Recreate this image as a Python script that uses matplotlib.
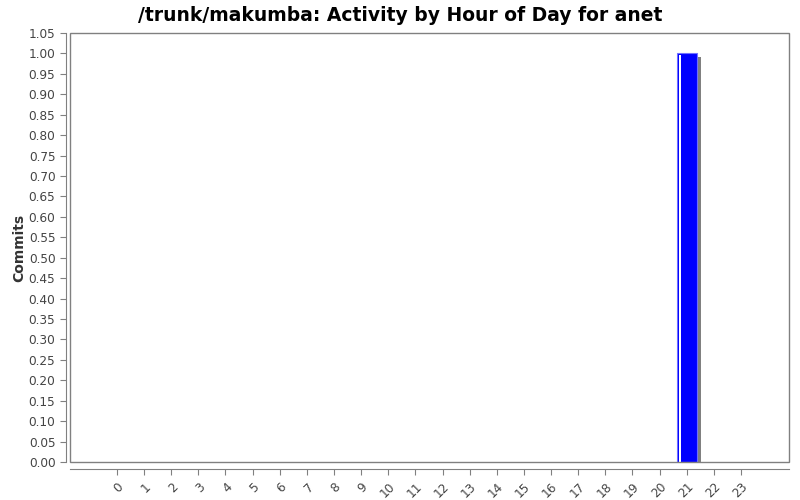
import matplotlib
matplotlib.use("Agg")
import matplotlib.pyplot as plt
import matplotlib.transforms as mtransforms
from matplotlib.patches import Rectangle
import numpy as np

hours = list(range(24))
commits = [0]*21 + [1] + [0, 0]
title = "/trunk/makumba: Activity by Hour of Day for anet"
ylabel = "Commits"
yticks = [round(0.05*i, 2) for i in range(22)]

fig = plt.figure(figsize=(8, 5), dpi=100)
ax = fig.add_axes([70/800, 38/500, 719/800, 429/500])

x = np.array(hours)
vals = np.array(commits, dtype=float)
nz = vals > 0
bw = 0.74
shadow_tr = mtransforms.offset_copy(ax.transData, fig=fig, x=4, y=-4, units='dots')
ax.bar(x[nz], vals[nz], width=bw, color='#808080', linewidth=0, transform=shadow_tr, zorder=2)
ax.bar(x[nz], vals[nz], width=bw, color='#0000ff', edgecolor='#7070ff', linewidth=0.8, zorder=3)
ax.bar(x[nz] - bw/2 + 0.11, vals[nz] - 0.004, width=0.07, color='white', linewidth=0, zorder=4)

ax.set_xlim(-1.73, 24.77)
ax.set_ylim(0, 1.05)
ax.set_yticks(yticks)
ax.set_yticklabels([f"{v:.2f}" for v in yticks])
ax.set_xticks(hours)
ax.set_xticklabels([str(h) for h in hours])

gray = '#808080'
for s in ['top', 'right']:
    ax.spines[s].set_visible(False)
ax.spines['left'].set_position(('outward', 3))
ax.spines['bottom'].set_position(('outward', 5))
ax.spines['left'].set_color(gray)
ax.spines['bottom'].set_color(gray)
ax.add_patch(Rectangle((0, 0), 1, 1, transform=ax.transAxes, fill=False,
                       edgecolor=gray, linewidth=1.0, zorder=5, clip_on=False))
ax.tick_params(axis='both', colors=gray, labelcolor='#444444', labelsize=8.7, length=4, width=0.8)
ax.tick_params(axis='x', pad=4)
for lab in ax.get_xticklabels():
    lab.set_rotation(45)
    lab.set_ha('right')
    lab.set_va('top')
    lab.set_rotation_mode('anchor')

ax.set_ylabel(ylabel, fontsize=10, fontweight='bold', color='#333333', labelpad=2)
fig.suptitle(title, fontsize=13.5, fontweight='bold', y=0.988, x=0.5, color='black')

fig.savefig("out.png", dpi=100)
